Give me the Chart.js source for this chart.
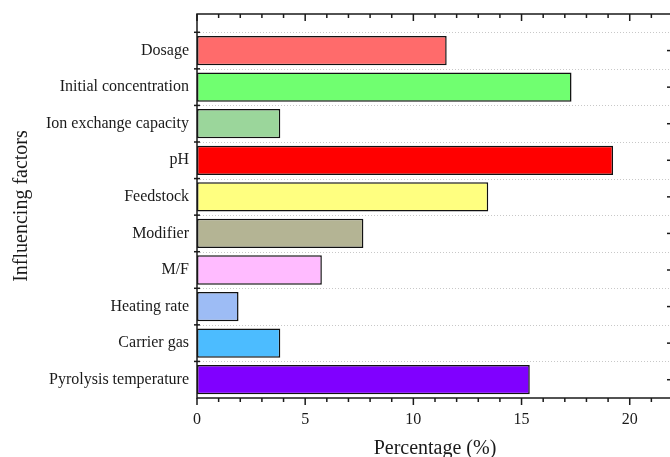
<!DOCTYPE html>
<html>
<head>
<meta charset="utf-8">
<script src="https://cdn.jsdelivr.net/npm/chart.js@4.4.0/dist/chart.umd.min.js"></script>
<style>
  html, body { margin: 0; padding: 0; background: #fff; overflow: hidden; }
  #wrap { width: 680px; height: 457px; }
</style>
</head>
<body>
<div id="wrap"><canvas id="chart" width="680" height="457"></canvas></div>
<script>
// categories from top to bottom
const factors = [
    'Dosage',
    'Initial concentration',
    'Ion exchange capacity',
    'pH',
    'Feedstock',
    'Modifier',
    'M/F',
    'Heating rate',
    'Carrier gas',
    'Pyrolysis temperature'
];
const percentages = [11.54, 17.31, 3.85, 19.23, 13.46, 7.69, 5.77, 1.92, 3.85, 15.38];
const barColors = [
    '#ff6b6b', '#70ff70', '#9bd69b', '#ff0000', '#ffff80',
    '#b4b494', '#ffbbff', '#9dbcf5', '#4cbcff', '#8000ff'
];
const xTicks = [0, 5, 10, 15, 20];

const serif = "'Liberation Serif', 'Times New Roman', serif";
const ink = '#1a1a1a';

// frame, ticks and dotted separators like the Origin plot
const framePlugin = {
    id: 'frame',
    beforeDatasetsDraw(chart) {
        const { ctx, chartArea: a, scales } = chart;
        ctx.save();
        ctx.strokeStyle = '#c8c8c8';
        ctx.lineWidth = 1;
        ctx.setLineDash([1, 2]);
        for (let i = -0.5; i < factors.length - 1; i++) {
            const y = Math.round(scales.y.getPixelForValue(i)) + 0.5;
            ctx.beginPath();
            ctx.moveTo(a.left, y);
            ctx.lineTo(a.right, y);
            ctx.stroke();
        }
        ctx.restore();
    },
    afterDraw(chart) {
        const { ctx, chartArea: a, scales } = chart;
        ctx.save();
        ctx.strokeStyle = ink;
        ctx.lineWidth = 1.5;
        ctx.strokeRect(a.left, a.top, a.right - a.left, a.bottom - a.top);

        // x ticks: inward on top, outward on bottom
        for (let v = 0; v <= scales.x.max; v++) {
            const x = scales.x.getPixelForValue(v);
            const len = v % 5 === 0 ? 7 : 4;
            ctx.beginPath();
            ctx.moveTo(x, a.top);
            ctx.lineTo(x, a.top + len);
            ctx.moveTo(x, a.bottom);
            ctx.lineTo(x, a.bottom + len);
            ctx.stroke();
        }
        // left ticks at category boundaries, right ticks at centres
        for (let i = -0.5; i < factors.length - 1; i++) {
            const y = scales.y.getPixelForValue(i);
            ctx.beginPath();
            ctx.moveTo(a.left - 3, y);
            ctx.lineTo(a.left + 3, y);
            ctx.stroke();
        }
        for (let i = 0; i < factors.length; i++) {
            const y = scales.y.getPixelForValue(i);
            ctx.beginPath();
            ctx.moveTo(a.right, y);
            ctx.lineTo(a.right - 6, y);
            ctx.stroke();
        }
        ctx.restore();
    }
};

const ctx = document.getElementById('chart').getContext('2d');
new Chart(ctx, {
    type: 'bar',
    data: {
        datasets: [{
            data: percentages.map((p, i) => ({ x: p, y: i })),
            backgroundColor: barColors,
            borderColor: '#111',
            borderWidth: 1.5,
            borderSkipped: false,
            barPercentage: 0.8,
            categoryPercentage: 1
        }]
    },
    options: {
        indexAxis: 'y',
        responsive: false,
        animation: false,
        layout: { padding: { top: 14, right: 7, left: 0, bottom: 0 } },
        plugins: {
            legend: { display: false },
            tooltip: { enabled: false }
        },
        scales: {
            x: {
                type: 'linear',
                position: 'bottom',
                min: 0,
                max: 22,
                afterBuildTicks: (scale) => { scale.ticks = xTicks.map(v => ({ value: v })); },
                ticks: { font: { family: serif, size: 16 }, color: ink, padding: 12, maxRotation: 0 },
                grid: { display: false, drawTicks: false },
                border: { display: false },
                title: {
                    display: true,
                    text: 'Percentage (%)',
                    font: { family: serif, size: 20, lineHeight: 1 },
                    color: ink,
                    padding: { top: 0, bottom: -2 }
                },
                afterFit: (scale) => {
                    scale.height = 59;
                    scale.paddingLeft = 0;
                    scale.paddingRight = 0;
                }
            },
            y: {
                type: 'linear',
                position: 'left',
                reverse: true,
                offset: false,
                min: -1,
                max: factors.length - 0.5,
                afterBuildTicks: (scale) => { scale.ticks = factors.map((f, i) => ({ value: i })); },
                ticks: {
                    font: { family: serif, size: 16 },
                    color: ink,
                    padding: 8,
                    callback: (v) => factors[v]
                },
                grid: { display: false, drawTicks: false },
                border: { display: false },
                title: {
                    display: true,
                    text: 'Influencing factors',
                    font: { family: serif, size: 20, lineHeight: 1 },
                    color: ink,
                    padding: { top: 12, bottom: 0 }
                },
                afterFit: (scale) => {
                    scale.width = 197;
                    scale.paddingTop = 0;
                    scale.paddingBottom = 0;
                }
            }
        }
    },
    plugins: [framePlugin]
});
</script>
</body>
</html>
